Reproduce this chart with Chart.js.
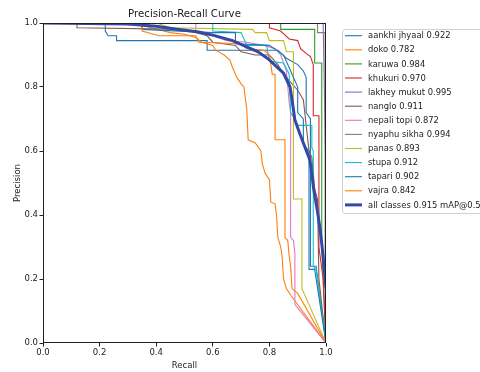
<!DOCTYPE html>
<html>
<head>
<meta charset="utf-8">
<script src="https://cdn.jsdelivr.net/npm/chart.js@4"></script>
<style>
  body { margin: 0; background: #fff; }
  canvas { display: block; }
</style>
</head>
<body>
<canvas id="pr" width="480" height="372"></canvas>
<script>
// class names and their AP@0.5
var classNames = ["aankhi jhyaal", "doko", "karuwa", "khukuri", "lakhey mukut", "nanglo",
    "nepali topi", "nyaphu sikha", "panas", "stupa", "tapari", "vajra"];
var apValues = [0.922, 0.782, 0.984, 0.970, 0.995, 0.911, 0.872, 0.994, 0.893, 0.912, 0.902, 0.842];
var meanAP = 0.915;
var tickValues = [0, 0.2, 0.4, 0.6, 0.8, 1.0];

// [recall, precision]
var aankhiJhyaal = [[0,1],[0.22,1],[0.22,0.975],[0.23,0.96],[0.26,0.96],[0.26,0.945],[0.58,0.945],[0.58,0.915],
    [0.83,0.915],[0.86,0.89],[0.9,0.87],[0.92,0.85],[0.93,0.83],[0.93,0.72],[0.945,0.7],[0.945,0.24],[0.965,0.24],[1,0]];
var doko = [[0,1],[0.3,1],[0.36,0.99],[0.45,0.97],[0.5,0.965],[0.54,0.955],[0.56,0.94],[0.6,0.93],[0.61,0.915],
    [0.64,0.9],[0.66,0.885],[0.67,0.86],[0.685,0.83],[0.7,0.81],[0.71,0.8],[0.72,0.73],[0.725,0.635],[0.75,0.625],
    [0.77,0.6],[0.775,0.56],[0.785,0.53],[0.8,0.51],[0.805,0.44],[0.82,0.435],[0.825,0.4],[0.83,0.33],[0.84,0.3],
    [0.845,0.27],[0.85,0.2],[0.86,0.17],[0.875,0.15],[1,0]];
var karuwa = [[0,1],[0.84,1],[0.84,0.98],[0.96,0.98],[0.96,0.875],[0.985,0.875],[0.985,0.3],[1,0]];
var khukuri = [[0,1],[0.8,1],[0.8,0.985],[0.84,0.975],[0.87,0.95],[0.9,0.945],[0.91,0.92],[0.93,0.905],
    [0.945,0.895],[0.955,0.87],[0.955,0.71],[0.975,0.71],[0.975,0.3],[0.99,0.2],[1,0]];
var lakheyMukut = [[0,1],[0.99,1],[1,0.5],[1,0]];
var nanglo = [[0,1],[0.12,1],[0.12,0.985],[0.5,0.98],[0.58,0.96],[0.6,0.94],[0.68,0.93],[0.7,0.91],[0.75,0.9],
    [0.8,0.9],[0.83,0.87],[0.85,0.84],[0.87,0.82],[0.9,0.79],[0.92,0.76],[0.94,0.6],[0.95,0.58],[0.96,0.48],
    [0.97,0.45],[0.975,0.2],[1,0]];
var nepaliTopi = [[0,1],[0.54,1],[0.54,0.975],[0.6,0.96],[0.65,0.945],[0.72,0.94],[0.78,0.93],[0.82,0.92],
    [0.84,0.9],[0.86,0.85],[0.87,0.75],[0.875,0.72],[0.875,0.33],[0.885,0.32],[0.89,0.28],[0.89,0.12],[0.9,0.11],[1,0]];
var nyaphuSikha = [[0,1],[0.97,1],[0.97,0.97],[0.997,0.97],[0.997,0.2],[1,0]];
var panas = [[0,1],[0.4,1],[0.45,0.985],[0.74,0.98],[0.75,0.97],[0.79,0.97],[0.8,0.945],[0.85,0.945],[0.86,0.91],
    [0.885,0.91],[0.885,0.45],[0.915,0.45],[0.915,0.17],[1,0]];
var stupa = [[0,1],[0.6,1],[0.6,0.975],[0.7,0.97],[0.72,0.93],[0.79,0.93],[0.8,0.88],[0.85,0.875],[0.87,0.84],
    [0.875,0.72],[0.89,0.7],[0.9,0.68],[0.95,0.68],[0.95,0.61],[0.955,0.6],[0.955,0.24],[0.965,0.23],[1,0]];
var tapari = [[0,1],[0.35,1],[0.35,0.98],[0.6,0.97],[0.68,0.97],[0.68,0.935],[0.8,0.93],[0.85,0.9],[0.87,0.86],
    [0.9,0.8],[0.9,0.72],[0.92,0.7],[0.92,0.62],[0.94,0.6],[0.94,0.23],[0.96,0.23],[1,0]];
var vajra = [[0,1],[0.35,1],[0.35,0.975],[0.41,0.96],[0.54,0.96],[0.55,0.94],[0.7,0.935],[0.72,0.92],[0.78,0.915],
    [0.8,0.9],[0.81,0.84],[0.82,0.84],[0.82,0.635],[0.855,0.635],[0.855,0.33],[0.865,0.32],[0.87,0.27],[0.875,0.24],
    [0.88,0.17],[0.9,0.155],[1,0]];
var allClasses = [[0,1],[0.3,0.997],[0.4,0.99],[0.48,0.98],[0.55,0.972],[0.6,0.962],[0.67,0.945],[0.72,0.925],
    [0.76,0.91],[0.8,0.885],[0.83,0.86],[0.85,0.843],[0.873,0.8],[0.88,0.76],[0.89,0.697],[0.905,0.66],[0.92,0.625],
    [0.943,0.572],[0.95,0.53],[0.955,0.49],[0.97,0.41],[0.98,0.35],[0.99,0.27],[1,0.17]];

var curves = [aankhiJhyaal, doko, karuwa, khukuri, lakheyMukut, nanglo, nepaliTopi, nyaphuSikha, panas, stupa, tapari, vajra];
var colors = ["#1f77b4", "#ff7f0e", "#2ca02c", "#d62728", "#9467bd", "#8c564b",
    "#e377c2", "#7f7f7f", "#bcbd22", "#17becf", "#1f77b4", "#ff7f0e"];
var FONT = "'DejaVu Sans', sans-serif";

function toPoints(arr) {
    return arr.map(function (p) { return {x: p[0], y: p[1]}; });
}

var datasets = [];
for (var i = 0; i < curves.length; i++) {
    datasets.push({
        label: classNames[i] + " " + apValues[i].toFixed(3),
        data: toPoints(curves[i]),
        borderColor: colors[i],
        borderWidth: 1.1,
        order: 100 - i
    });
}
datasets.push({
    label: "all classes " + meanAP.toFixed(3) + " mAP@0.5",
    data: toPoints(allClasses),
    borderColor: "#3349a6",
    borderWidth: 3,
    order: 0
});

var extras = {
    id: 'extras',
    afterDatasetsDraw: function (chart) {
        var ctx = chart.ctx, a = chart.chartArea;
        ctx.save();
        // spines
        ctx.strokeStyle = '#222';
        ctx.lineWidth = 1;
        ctx.strokeRect(a.left + 0.5, a.top + 0.5, a.right - a.left - 1, a.bottom - a.top - 1);
        // title and axis labels
        ctx.fillStyle = '#222';
        ctx.textAlign = 'center';
        ctx.textBaseline = 'middle';
        ctx.font = '10.2px ' + FONT;
        ctx.fillText('Precision-Recall Curve', (a.left + a.right) / 2, 14);
        ctx.font = '8.5px ' + FONT;
        ctx.fillText('Recall', (a.left + a.right) / 2, 366);
        ctx.save();
        ctx.translate(18, (a.top + a.bottom) / 2);
        ctx.rotate(-Math.PI / 2);
        ctx.fillText('Precision', 0, 0);
        ctx.restore();
        // legend
        var lx = 342, ly = 29, lw = 160, lh = 184;
        ctx.beginPath();
        ctx.roundRect(lx + 0.5, ly + 0.5, lw, lh, 3);
        ctx.fillStyle = 'rgba(255,255,255,0.85)';
        ctx.fill();
        ctx.strokeStyle = '#d0d0d0';
        ctx.stroke();
        ctx.font = '8.4px ' + FONT;
        ctx.textAlign = 'left';
        var ds = chart.data.datasets;
        for (var k = 0; k < ds.length; k++) {
            var y = 35.7 + k * 14.1;
            ctx.beginPath();
            ctx.moveTo(345, y);
            ctx.lineTo(362, y);
            ctx.strokeStyle = ds[k].borderColor;
            ctx.lineWidth = ds[k].borderWidth;
            ctx.stroke();
            ctx.fillStyle = '#222';
            ctx.fillText(ds[k].label, 368, y + 0.5);
        }
        ctx.restore();
    }
};

new Chart(document.getElementById('pr'), {
    type: 'line',
    data: {datasets: datasets},
    options: {
        responsive: false,
        animation: false,
        devicePixelRatio: 1,
        parsing: true,
        layout: {padding: {top: 23, right: 154, left: 0, bottom: 0}},
        elements: {
            point: {radius: 0, hoverRadius: 0},
            line: {tension: 0, fill: false}
        },
        datasets: {line: {clip: 0}},
        plugins: {legend: {display: false}, title: {display: false}, tooltip: {enabled: false}},
        scales: {
            x: {
                type: 'linear', min: 0, max: 1,
                afterFit: function (s) { s.height = 29; },
                afterBuildTicks: function (s) { s.ticks = tickValues.map(function (v) { return {value: v}; }); },
                grid: {display: true, drawOnChartArea: false, drawTicks: true, tickLength: 3.5, color: '#222'},
                border: {display: false},
                ticks: {
                    padding: 1.5, color: '#222', maxRotation: 0,
                    font: {family: FONT, size: 8.5},
                    callback: function (v) { return v.toFixed(1); }
                }
            },
            y: {
                type: 'linear', min: 0, max: 1,
                afterFit: function (s) { s.width = 43; },
                afterBuildTicks: function (s) { s.ticks = tickValues.map(function (v) { return {value: v}; }); },
                grid: {display: true, drawOnChartArea: false, drawTicks: true, tickLength: 3.5, color: '#222'},
                border: {display: false},
                ticks: {
                    padding: 1.5, color: '#222',
                    font: {family: FONT, size: 8.5},
                    callback: function (v) { return v.toFixed(1); }
                }
            }
        }
    },
    plugins: [extras]
});
</script>
</body>
</html>
